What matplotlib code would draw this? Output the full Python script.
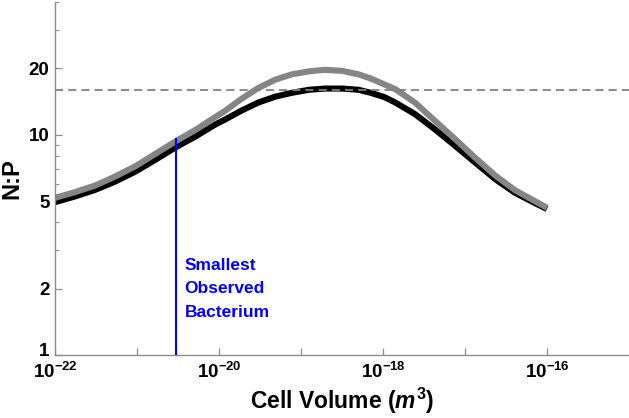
import numpy as np
import matplotlib
matplotlib.use("Agg")
import matplotlib.pyplot as plt
import matplotlib.transforms as mtransforms
from matplotlib.ticker import FixedLocator, NullFormatter

plt.rcParams['font.family'] = ['Liberation Sans', 'DejaVu Sans']
plt.rcParams['font.weight'] = 'bold'
plt.rcParams['mathtext.fontset'] = 'custom'
plt.rcParams['mathtext.rm'] = 'Liberation Sans:bold'
plt.rcParams['mathtext.bf'] = 'Liberation Sans:bold'
plt.rcParams['mathtext.it'] = 'Liberation Sans:bold:italic'

# log10 of cell volume (m^3) and N:P
log_vol = [-22, -21.76, -21.51, -21.27, -21.02, -20.78, -20.53, -20.29, -20.05, -19.93,
           -19.72, -19.52, -19.31, -19.11, -18.9, -18.71, -18.5, -18.3, -18.15, -17.98,
           -17.85, -17.61, -17.37, -17.12, -16.88, -16.63, -16.39, -16.15, -16.0]
np_black = [4.94, 5.24, 5.62, 6.12, 6.8, 7.68, 8.76, 9.8, 11.1, 11.7,
            12.9, 14.0, 14.9, 15.5, 16.0, 16.2, 16.2, 16.0, 15.5, 14.8,
            14.0, 12.4, 10.6, 8.9, 7.5, 6.28, 5.45, 4.9, 4.6]
np_gray = [5.17, 5.48, 5.88, 6.45, 7.19, 8.17, 9.33, 10.5, 12.0, 12.8,
           14.6, 16.3, 17.8, 18.8, 19.4, 19.7, 19.5, 18.8, 18.0, 16.9,
           16.1, 14.0, 11.6, 9.55, 7.89, 6.52, 5.6, 5.0, 4.66]

redfield = 16
smallest_bact = 3e-21
smallest_bact_np = 9.6

x_ticks = [1e-22, 1e-21, 1e-20, 1e-19, 1e-18, 1e-17, 1e-16]
x_labels = [r'$10^{-22}$', '', r'$10^{-20}$', '', r'$10^{-18}$', '', r'$10^{-16}$']
y_ticks = [1, 2, 5, 10, 20]
y_minor = [3, 4, 6, 7, 8, 9, 30, 40]

vol = 10.0 ** np.array(log_vol)

fig = plt.figure(figsize=(6.29, 4.18), dpi=100)
ax = fig.add_axes([0.0874, 0.1507, 0.9126, 0.8443])

ax.plot(vol, np_black, color='black', lw=4.4, solid_capstyle='butt', zorder=2)
ax.plot(vol, np_gray, color='#858585', lw=4.4, solid_capstyle='butt', zorder=3)
ax.axhline(redfield, color='#808080', lw=1.3, dashes=(4.5, 2.8), zorder=4)
ax.plot([smallest_bact, smallest_bact], [1, smallest_bact_np], color='#0000ff', lw=1.5, zorder=5)
ax.text(3.8e-21, 2.0, 'Smallest\nObserved\nBacterium', color='#0000ff', fontsize=12.5,
        fontweight='bold', linespacing=1.7, va='center', ha='left')

ax.set_xscale('log')
ax.set_yscale('log')
ax.set_xlim(1e-22, 1e-15)
ax.set_ylim(1, 40)

ax.xaxis.set_major_locator(FixedLocator(x_ticks))
ax.set_xticklabels(x_labels)
ax.xaxis.set_minor_locator(FixedLocator([]))
ax.yaxis.set_major_locator(FixedLocator(y_ticks))
ax.set_yticklabels([str(t) for t in y_ticks])
ax.yaxis.set_minor_locator(FixedLocator(y_minor))
ax.yaxis.set_minor_formatter(NullFormatter())

for s in ['top', 'right']:
    ax.spines[s].set_visible(False)
for s in ['left', 'bottom']:
    ax.spines[s].set_color('#8c8c8c')
    ax.spines[s].set_linewidth(1.0)

ax.tick_params(which='major', direction='in', length=5, width=0.9, color='#8c8c8c',
               labelsize=13.5)
ax.tick_params(axis='x', which='major', pad=5)
ax.tick_params(axis='y', which='major', pad=4)
ax.tick_params(which='minor', direction='in', length=3, width=0.8, color='#8c8c8c')
for lab in ax.get_xticklabels() + ax.get_yticklabels():
    lab.set_fontweight('bold')

# lift the "1" a little so it clears 10^-22 (as in the original)
lab1 = ax.get_yticklabels()[0]
lab1.set_transform(lab1.get_transform() + mtransforms.ScaledTranslation(0, 4 / 72, fig.dpi_scale_trans))

ax.set_xlabel(r'Cell Volume ($m^3$)', fontsize=16.5, fontweight='bold', labelpad=3)
ax.set_ylabel('N:P', fontsize=17, fontweight='bold', labelpad=4)

fig.savefig('out.png', dpi=100)
